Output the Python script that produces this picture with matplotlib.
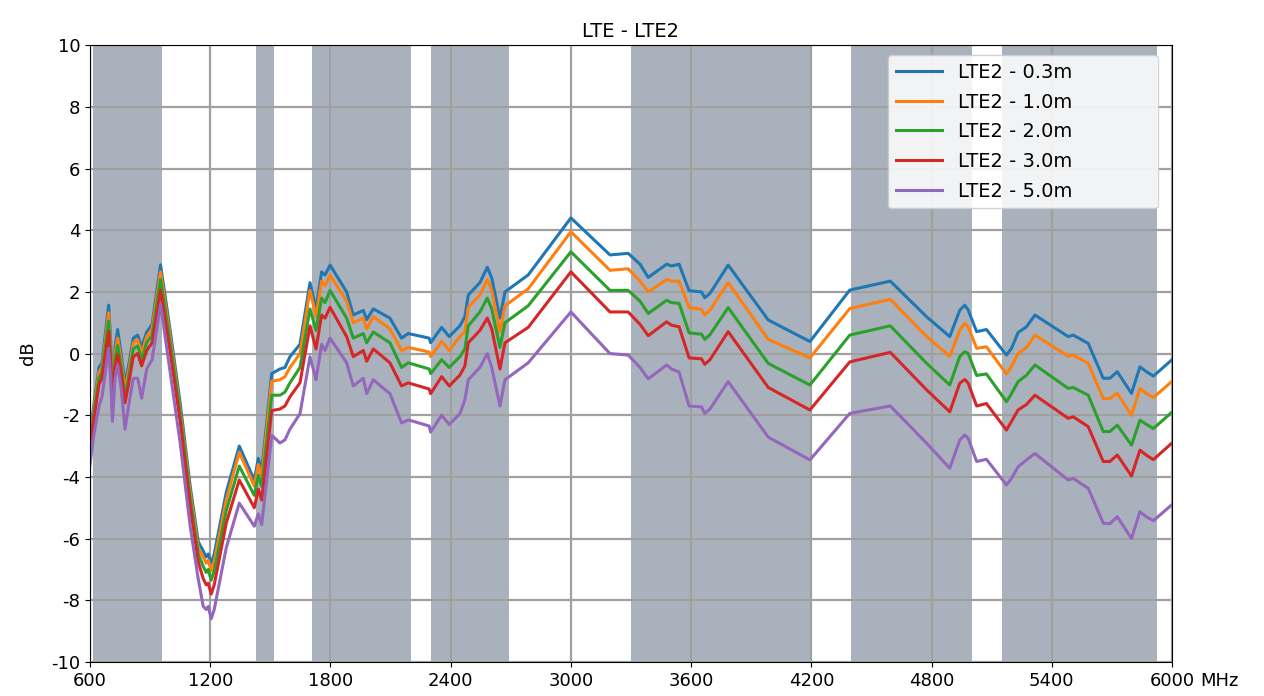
import matplotlib
matplotlib.use("Agg")
import matplotlib.pyplot as plt

plt.rcParams["axes.unicode_minus"] = False

# frequency points (MHz)
freq = [600, 620, 645, 660, 693, 703, 712, 725, 738, 755, 775, 795, 816, 838, 858,
        883, 910, 952, 1000, 1050, 1100, 1140, 1165, 1180, 1190, 1205, 1220, 1280,
        1345, 1420, 1440, 1457, 1507, 1548, 1573, 1598, 1648, 1698, 1728, 1756, 1773,
        1798, 1881, 1914, 1964, 1981, 2014, 2097, 2155, 2188, 2293, 2300, 2355, 2393,
        2446, 2471, 2488, 2546, 2583, 2605, 2646, 2671, 2787, 3000, 3195, 3286, 3345,
        3386, 3478, 3502, 3540, 3590, 3652, 3668, 3694, 3785, 3985, 4193, 4392, 4594,
        4776, 4891, 4941, 4966, 4983, 5025, 5074, 5174, 5199, 5232, 5274, 5316, 5482,
        5507, 5582, 5657, 5690, 5727, 5798, 5840, 5873, 5907, 6000]

lte2_03 = [-2.75, -1.6, -0.45, -0.3, 1.57, 0.4, -1.5, 0.2, 0.78, 0.0, -1.0, -0.3, 0.5, 0.6, 0.2,
           0.7, 0.95, 2.88, 0.75, -1.6, -4.3, -6.1, -6.4, -6.6, -6.5, -6.8, -6.5, -4.5,
           -3.0, -4.1, -3.4, -3.8, -0.65, -0.5, -0.45, -0.1, 0.3, 2.3, 1.45, 2.65, 2.55,
           2.87, 2.0, 1.25, 1.4, 1.1, 1.45, 1.15, 0.5, 0.65, 0.5, 0.35, 0.85, 0.55,
           0.9, 1.2, 1.9, 2.3, 2.8, 2.45, 1.15, 2.0, 2.55, 4.4, 3.2, 3.25, 2.9,
           2.47, 2.9, 2.84, 2.9, 2.04, 2.0, 1.81, 1.95, 2.87, 1.09, 0.39, 2.06, 2.35,
           1.19, 0.55, 1.41, 1.57, 1.41, 0.71, 0.78, -0.05, 0.17, 0.68, 0.87, 1.25, 0.55,
           0.6, 0.33, -0.8, -0.8, -0.59, -1.29, -0.43, -0.59, -0.73, -0.2]

lte2_10 = [-2.9, -1.75, -0.6, -0.45, 1.32, 0.2, -1.6, 0.0, 0.5, -0.2, -1.2, -0.5, 0.35, 0.45, 0.0,
           0.55, 0.8, 2.65, 0.55, -1.8, -4.5, -6.3, -6.6, -6.8, -6.7, -7.05, -6.75, -4.75,
           -3.2, -4.3, -3.6, -4.0, -0.9, -0.85, -0.75, -0.45, 0.0, 2.05, 1.2, 2.35, 2.2,
           2.55, 1.7, 1.0, 1.15, 0.8, 1.2, 0.8, 0.1, 0.2, 0.05, -0.1, 0.4, 0.1,
           0.55, 0.7, 1.5, 1.9, 2.4, 2.05, 0.7, 1.55, 2.1, 3.95, 2.7, 2.75, 2.35,
           2.0, 2.4, 2.35, 2.35, 1.49, 1.44, 1.25, 1.41, 2.3, 0.46, -0.14, 1.46, 1.76,
           0.55, -0.09, 0.76, 0.98, 0.87, 0.17, 0.22, -0.66, -0.42, 0.0, 0.2, 0.6, -0.09,
           -0.05, -0.32, -1.46, -1.46, -1.29, -2.0, -1.13, -1.3, -1.43, -0.9]

lte2_20 = [-3.0, -1.9, -0.8, -0.6, 1.05, 0.0, -1.7, -0.2, 0.27, -0.4, -1.4, -0.7, 0.15, 0.25, -0.2,
           0.35, 0.6, 2.4, 0.35, -1.95, -4.7, -6.5, -6.9, -7.1, -7.0, -7.35, -7.05, -5.1,
           -3.65, -4.6, -3.95, -4.3, -1.35, -1.35, -1.25, -0.95, -0.45, 1.45, 0.75, 1.8, 1.65,
           2.05, 1.15, 0.5, 0.65, 0.35, 0.7, 0.35, -0.45, -0.3, -0.5, -0.65, -0.2, -0.45,
           -0.1, 0.15, 0.9, 1.35, 1.8, 1.45, 0.2, 1.0, 1.55, 3.3, 2.05, 2.05, 1.7,
           1.3, 1.73, 1.65, 1.63, 0.67, 0.63, 0.46, 0.61, 1.49, -0.32, -1.02, 0.6, 0.9,
           -0.32, -1.02, -0.09, 0.06, 0.0, -0.71, -0.66, -1.56, -1.3, -0.91, -0.7, -0.37, -1.13,
           -1.1, -1.35, -2.53, -2.53, -2.32, -2.97, -2.16, -2.3, -2.43, -1.9]

lte2_30 = [-3.15, -2.1, -1.0, -0.8, 0.72, -0.3, -1.8, -0.4, -0.03, -0.6, -1.6, -0.9, -0.1, 0.0, -0.4,
           0.1, 0.35, 2.05, 0.05, -2.2, -4.95, -6.75, -7.3, -7.5, -7.45, -7.8, -7.5, -5.5,
           -4.1, -5.0, -4.4, -4.75, -1.85, -1.8, -1.7, -1.4, -0.95, 0.9, 0.15, 1.25, 1.15,
           1.5, 0.55, -0.1, 0.1, -0.25, 0.15, -0.3, -1.05, -0.95, -1.15, -1.3, -0.75, -1.05,
           -0.7, -0.4, 0.35, 0.75, 1.15, 0.8, -0.5, 0.35, 0.85, 2.65, 1.35, 1.35, 0.95,
           0.58, 1.03, 0.92, 0.87, -0.14, -0.17, -0.35, -0.2, 0.71, -1.1, -1.83, -0.27, 0.04,
           -1.18, -1.89, -0.96, -0.84, -0.96, -1.7, -1.62, -2.48, -2.2, -1.83, -1.65, -1.35, -2.1,
           -2.05, -2.37, -3.5, -3.5, -3.29, -3.97, -3.13, -3.3, -3.44, -2.9]

lte2_50 = [-3.6, -2.6, -1.7, -1.4, 0.17, -0.8, -2.2, -0.8, -0.37, -1.1, -2.45, -1.6, -0.8, -0.8, -1.45,
           -0.5, -0.2, 1.6, -0.6, -2.9, -5.6, -7.3, -8.2, -8.3, -8.2, -8.6, -8.3, -6.3,
           -4.85, -5.6, -5.2, -5.55, -2.65, -2.9, -2.8, -2.45, -1.95, -0.1, -0.85, 0.3, 0.1,
           0.5, -0.3, -1.05, -0.8, -1.3, -0.85, -1.3, -2.25, -2.15, -2.35, -2.55, -2.0, -2.3,
           -1.95, -1.5, -0.85, -0.45, 0.0, -0.45, -1.7, -0.85, -0.3, 1.35, 0.0, -0.05, -0.45,
           -0.82, -0.37, -0.5, -0.6, -1.7, -1.73, -1.94, -1.8, -0.91, -2.71, -3.45, -1.94, -1.7,
           -2.91, -3.72, -2.8, -2.64, -2.75, -3.5, -3.43, -4.26, -4.05, -3.67, -3.45, -3.24, -4.1,
           -4.05, -4.37, -5.5, -5.52, -5.29, -6.0, -5.13, -5.3, -5.42, -4.9]

series = [lte2_03, lte2_10, lte2_20, lte2_30, lte2_50]
labels = ["LTE2 - 0.3m", "LTE2 - 1.0m", "LTE2 - 2.0m", "LTE2 - 3.0m", "LTE2 - 5.0m"]

# shaded LTE bands (MHz)
bands = [(617, 960), (1427, 1518), (1710, 2200), (2300, 2690),
         (3300, 4200), (4400, 5000), (5150, 5925)]

xticks = [600, 1200, 1800, 2400, 3000, 3600, 4200, 4800, 5400, 6000]
yticks = [-10, -8, -6, -4, -2, 0, 2, 4, 6, 8, 10]

fig = plt.figure(figsize=(12.64, 6.96), dpi=100)
ax = fig.add_axes([0.0712, 0.049, 0.856, 0.886])

for lo, hi in bands:
    ax.axvspan(lo, hi, color="slategray", alpha=0.6, lw=0)

for y, lab in zip(series, labels):
    ax.plot(freq, y, lw=2.2, label=lab)

ax.set_xlim(600, 6000)
ax.set_ylim(-10, 10)
ax.set_xticks(xticks)
ax.set_yticks(yticks)
ax.set_xticklabels([str(t) for t in xticks])
ax.tick_params(labelsize=13)
ax.grid(True, color="#a0a0a0", lw=1.6)
ax.set_ylabel("dB", fontsize=13, labelpad=10)
ax.set_title("LTE - LTE2", fontsize=14)
ax.annotate("MHz", xy=(1, 0), xycoords="axes fraction", xytext=(20, -7),
            textcoords="offset points", ha="left", va="top", fontsize=13)

ax.legend(loc="upper left", bbox_to_anchor=(0.7375, 0, 0.2495, 0.984), mode="expand",
          borderaxespad=0, fontsize=14, framealpha=0.85, handlelength=2.4,
          labelspacing=0.55)

fig.savefig("out.png", dpi=100)
